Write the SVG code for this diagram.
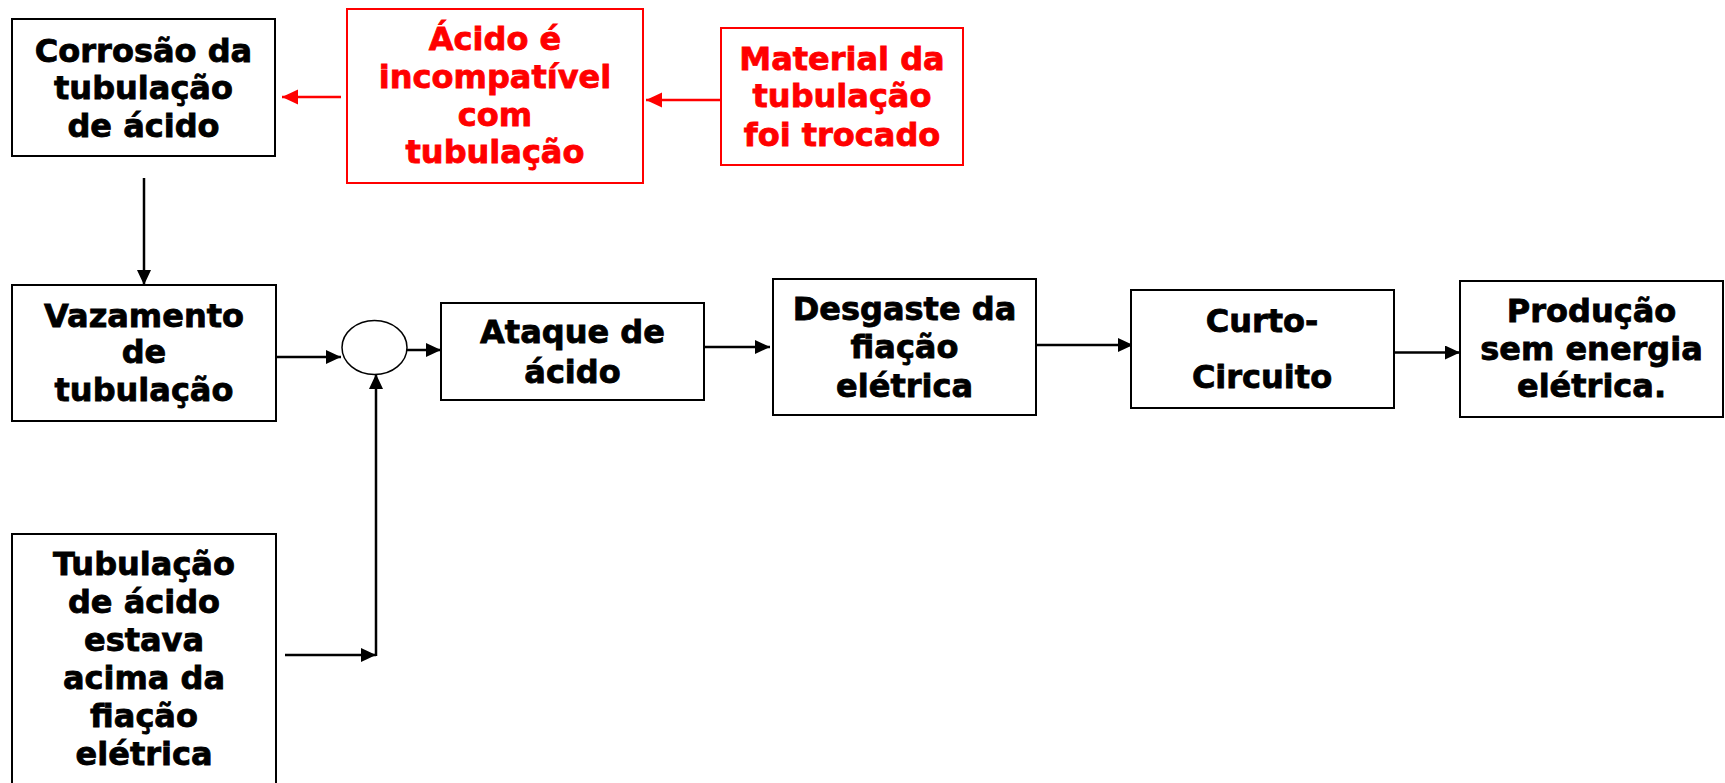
<svg xmlns="http://www.w3.org/2000/svg" width="1725" height="783" viewBox="0 0 1725 783">
<style>
.box{fill:#fff;stroke:#000;stroke-width:2}
.rbox{fill:#fff;stroke:#ff0000;stroke-width:2}
.t{font-family:"DejaVu Sans","Verdana",sans-serif;font-weight:bold;font-size:32px;text-anchor:middle;fill:#000;stroke:#000;stroke-width:0.8}
.rt{font-family:"DejaVu Sans","Verdana",sans-serif;font-weight:bold;font-size:32px;text-anchor:middle;fill:#ff0000;stroke:#ff0000;stroke-width:0.8}
.c{fill:none;stroke:#000;stroke-width:2.5}
.rc{fill:none;stroke:#ff0000;stroke-width:2.5}
</style>
<defs>
<marker id="ah" markerUnits="userSpaceOnUse" markerWidth="16" markerHeight="14" refX="15" refY="7" orient="auto">
<path d="M0,0 L15,7 L0,14 Z" fill="#000"/>
</marker>
<marker id="rah" markerUnits="userSpaceOnUse" markerWidth="17" markerHeight="16" refX="16" refY="8" orient="auto">
<path d="M0,0.5 L16,8 L0,15.5 Z" fill="#ff0000"/>
</marker>
</defs>
<rect width="1725" height="783" fill="#fff"/>
<g id="connectors">
<line class="rc" x1="341" y1="97" x2="282" y2="97" marker-end="url(#rah)"/>
<line class="rc" x1="721" y1="100" x2="646" y2="100" marker-end="url(#rah)"/>
<line class="c" x1="144" y1="178" x2="144" y2="285" marker-end="url(#ah)"/>
<line class="c" x1="276" y1="357" x2="341" y2="357" marker-end="url(#ah)"/>
<line class="c" x1="407" y1="350" x2="441" y2="350" marker-end="url(#ah)"/>
<line class="c" x1="376" y1="656" x2="376" y2="374" marker-end="url(#ah)"/>
<line class="c" x1="285" y1="655" x2="376" y2="655" marker-end="url(#ah)"/>
<line class="c" x1="704" y1="347" x2="770" y2="347" marker-end="url(#ah)"/>
<line class="c" x1="1036" y1="345" x2="1133" y2="345" marker-end="url(#ah)"/>
<line class="c" x1="1394" y1="352.5" x2="1460" y2="352.5" marker-end="url(#ah)"/>
</g>
<g id="corrosao">
<rect class="box" x="12" y="19" width="263" height="137"/>
<text class="t" x="143.5" y="62">Corrosão da</text>
<text class="t" x="143.5" y="99">tubulação</text>
<text class="t" x="143.5" y="137">de ácido</text>
</g>
<g id="acido-incompativel">
<rect class="rbox" x="347" y="9" width="296" height="174"/>
<text class="rt" x="495" y="50">Ácido é</text>
<text class="rt" x="495" y="88">incompatível</text>
<text class="rt" x="495" y="126">com</text>
<text class="rt" x="495" y="163">tubulação</text>
</g>
<g id="material">
<rect class="rbox" x="721" y="28" width="242" height="137"/>
<text class="rt" x="842" y="70">Material da</text>
<text class="rt" x="842" y="107">tubulação</text>
<text class="rt" x="842" y="146">foi trocado</text>
</g>
<g id="vazamento">
<rect class="box" x="12" y="285" width="264" height="136"/>
<text class="t" x="144" y="327">Vazamento</text>
<text class="t" x="144" y="363">de</text>
<text class="t" x="144" y="401">tubulação</text>
</g>
<g id="juncao">
<ellipse cx="374.5" cy="347.5" rx="32.5" ry="27" fill="#fff" stroke="#000" stroke-width="1.5"/>
</g>
<g id="tubulacao-acima">
<rect class="box" x="12" y="534" width="264" height="270"/>
<text class="t" x="144" y="575">Tubulação</text>
<text class="t" x="144" y="613">de ácido</text>
<text class="t" x="144" y="651">estava</text>
<text class="t" x="144" y="689">acima da</text>
<text class="t" x="144" y="727">fiação</text>
<text class="t" x="144" y="765">elétrica</text>
</g>
<g id="ataque">
<rect class="box" x="441" y="303" width="263" height="97"/>
<text class="t" x="572.5" y="343">Ataque de</text>
<text class="t" x="572.5" y="383">ácido</text>
</g>
<g id="desgaste">
<rect class="box" x="773" y="279" width="263" height="136"/>
<text class="t" x="904.5" y="320">Desgaste da</text>
<text class="t" x="904.5" y="358">fiação</text>
<text class="t" x="904.5" y="397">elétrica</text>
</g>
<g id="curto">
<rect class="box" x="1131" y="290" width="263" height="118"/>
<text class="t" x="1262" y="332">Curto-</text>
<text class="t" x="1262" y="388">Circuito</text>
</g>
<g id="producao">
<rect class="box" x="1460" y="281" width="263" height="136"/>
<text class="t" x="1591.5" y="322">Produção</text>
<text class="t" x="1591.5" y="360">sem energia</text>
<text class="t" x="1591.5" y="397">elétrica.</text>
</g>
</svg>
